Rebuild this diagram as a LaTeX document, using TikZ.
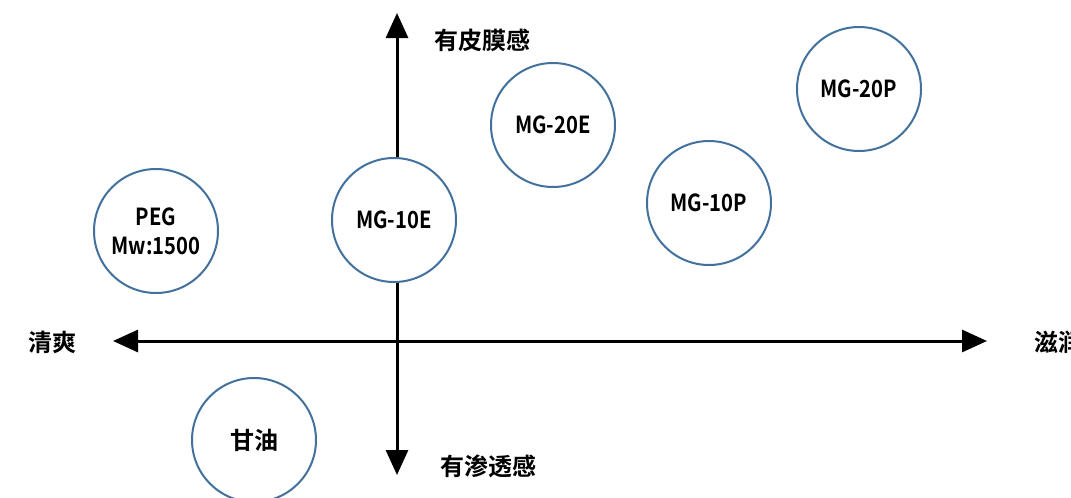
\documentclass[tikz,border=0pt]{standalone}
\usepackage{fontspec}
\setmainfont{Noto Sans CJK SC}
\newfontfamily\cjkb{Noto Sans CJK SC Bold}
\newfontfamily\latb[FakeStretch=0.86]{Noto Sans CJK SC Bold}
\usetikzlibrary{arrows.meta}
\definecolor{ringblue}{HTML}{41719C}
\tikzset{
  x=1pt,y=-1pt,
  axis/.style={line width=3pt,-{Triangle[length=25pt,width=22pt]}},
  bubble/.style={circle,draw=ringblue,line width=2pt,fill=white,minimum size=124pt,inner sep=0pt,align=center,font=\latb\fontsize{23.5}{29}\selectfont},
  axlabel/.style={font=\cjkb\fontsize{24}{28}\selectfont,inner sep=0pt}
}
\begin{document}
\begin{tikzpicture}
\useasboundingbox (0,0) rectangle (1071,498);
\clip (0,0) rectangle (1071,498);
\coordinate (O) at (397,341);
\coordinate (L) at (113,341);
\coordinate (R) at (987,341);
\coordinate (T) at (397,13);
\coordinate (B) at (397,475);
\draw[axis] (O) -- (L);
\draw[axis] (O) -- (R);
\draw[axis] (O) -- (T);
\draw[axis] (O) -- (B);
\node[axlabel] (qs) at (52,342) {清爽};
\node[axlabel,anchor=west] (zr) at (1034,342) {滋润};
\node[axlabel] (pm) at (482,40) {有皮膜感};
\node[axlabel] (st) at (488,466) {有渗透感};
\node[bubble] (peg) at (156,231) {PEG\\Mw:1500};
\node[bubble] (m10e) at (394,220) {MG-10E};
\node[bubble] (m20e) at (553,125) {MG-20E};
\node[bubble] (m10p) at (709,203) {MG-10P};
\node[bubble] (m20p) at (859,89) {MG-20P};
\node[bubble,font=\cjkb\fontsize{24}{28}\selectfont] (gy) at (254,440) {甘油};
\end{tikzpicture}
\end{document}
